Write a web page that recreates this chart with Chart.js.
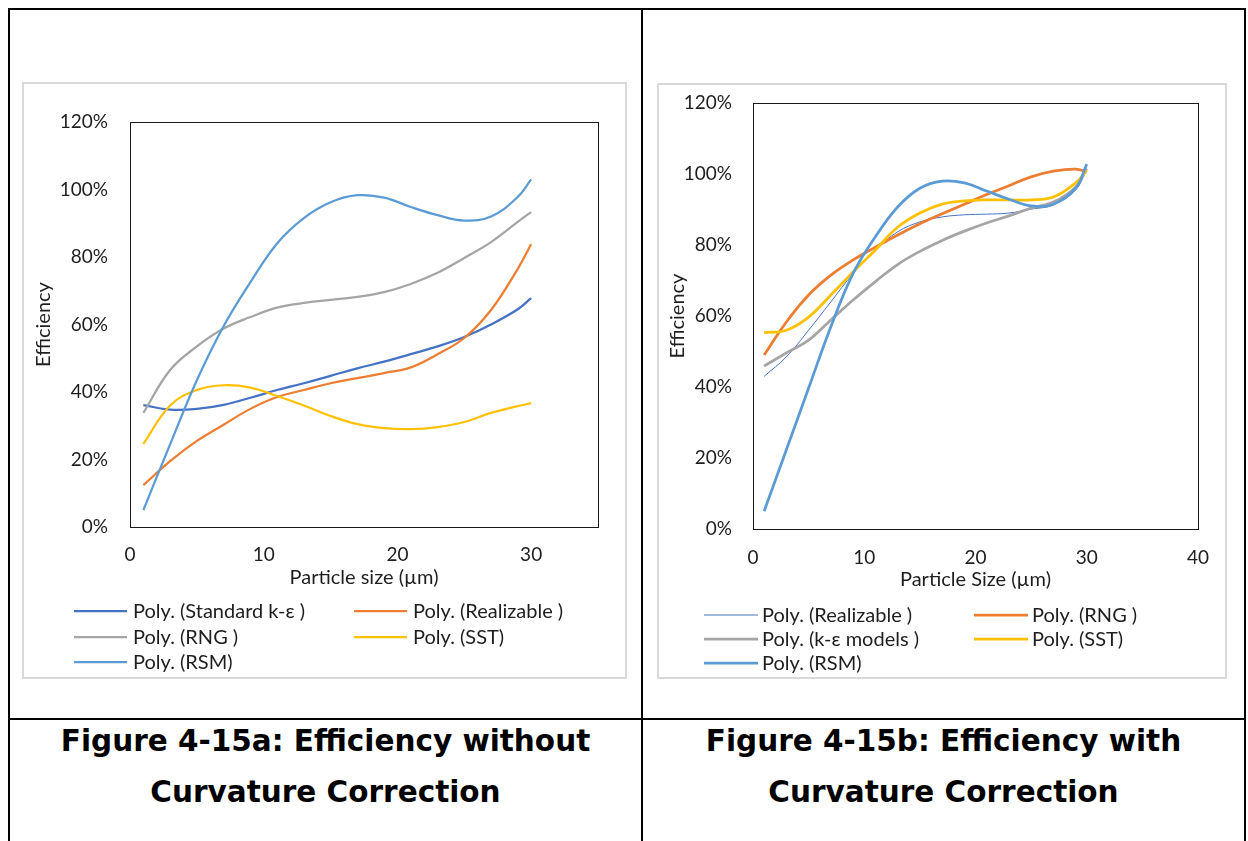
<!DOCTYPE html>
<html>
<head>
<meta charset="utf-8">
<title>Efficiency vs particle size</title>
<script src="https://cdn.jsdelivr.net/npm/chart.js@4.4.1/dist/chart.umd.min.js"></script>
<style>
  html, body { margin: 0; padding: 0; background: #fff; }
  body { position: relative; width: 1248px; height: 841px; overflow: hidden; }
  .rule { position: absolute; background: #000; }
  .frame { position: absolute; box-sizing: border-box; border: 2px solid #d9d9d9; background: #fff; }
  .frame canvas { display: block; }
  .caption {
    position: absolute; text-align: center;
    font-family: "DejaVu Sans", Verdana, sans-serif; font-weight: bold;
    font-size: 29.5px; line-height: 51px; color: #000;
  }
</style>
</head>
<body>
  <!-- table rules -->
  <div class="rule" style="left:8px;top:8px;width:1238px;height:2px"></div>
  <div class="rule" style="left:8px;top:718px;width:1238px;height:2px"></div>
  <div class="rule" style="left:8px;top:8px;width:2px;height:833px"></div>
  <div class="rule" style="left:641px;top:8px;width:2px;height:833px"></div>
  <div class="rule" style="left:1244px;top:8px;width:2px;height:833px"></div>

  <div class="frame" style="left:22px;top:82px;width:605px;height:597px">
    <canvas id="chartA" width="601" height="593"></canvas>
  </div>
  <div class="frame" style="left:657px;top:83px;width:570px;height:596px">
    <canvas id="chartB" width="566" height="592"></canvas>
  </div>

  <div class="caption" style="left:10px;top:716px;width:631px">Figure 4-15a: Efficiency without<br>Curvature Correction</div>
  <div class="caption" style="left:643px;top:716px;width:601px">Figure 4-15b: Efficiency with<br>Curvature Correction</div>

<script>
// Particle sizes (µm) at which each polynomial trend curve is sampled
const particleSize = [1, 3, 5, 7, 9, 11, 13, 15, 17, 19, 21, 23, 25, 27, 29, 30];

// Efficiency (%) without curvature correction
const standardKE_noCC  = [36.1, 34.8, 35.0, 36.2, 38.3, 40.6, 42.6, 44.8, 47.0, 49.0, 51.2, 53.5, 56.3, 60.0, 64.5, 67.8];
const realizable_noCC  = [12.4, 19.5, 25.5, 30.3, 35.0, 38.5, 40.6, 42.6, 44.1, 45.6, 47.3, 51.2, 56.0, 64.3, 76.5, 83.8];
const rng_noCC         = [33.8, 46.5, 53.5, 58.8, 62.2, 65.0, 66.4, 67.3, 68.2, 69.6, 72.0, 75.3, 79.7, 84.4, 90.4, 93.3];
const sst_noCC         = [24.6, 36.0, 40.6, 42.0, 41.3, 38.8, 36.0, 32.9, 30.5, 29.3, 29.0, 29.6, 31.1, 33.8, 35.8, 36.7];
const rsm_noCC         = [5.0, 24.5, 43.5, 59.5, 72.5, 84.0, 91.5, 96.2, 98.3, 97.6, 94.8, 92.4, 90.8, 92.0, 97.8, 103.0];

// Efficiency (%) with curvature correction
const realizable_CC    = [43.0, 48.5, 56.0, 64.0, 72.0, 78.6, 83.7, 86.5, 87.9, 88.5, 88.7, 89.0, 90.1, 91.3, 95.5, 101.5];
const rng_CC           = [49.0, 58.3, 65.9, 71.5, 75.8, 79.4, 82.8, 86.0, 88.8, 91.5, 94.2, 96.7, 99.2, 100.8, 101.4, 100.6];
const keModels_CC      = [45.9, 49.6, 53.2, 58.9, 64.5, 69.7, 74.5, 78.2, 81.3, 83.9, 86.2, 88.2, 90.4, 92.1, 96.3, 101.5];
const sst_CC           = [55.3, 56.0, 59.7, 65.9, 72.4, 78.6, 85.0, 89.0, 91.5, 92.4, 92.7, 92.7, 92.7, 93.5, 97.5, 101.0];
const rsm_CC           = [5.0, 22.3, 39.7, 57.0, 72.0, 82.3, 90.7, 96.0, 98.0, 97.5, 95.2, 92.9, 91.0, 91.5, 96.0, 102.8];

// Legend labels
const labelsA = ['Poly. (Standard k-ε )', 'Poly. (Realizable )', 'Poly. (RNG )', 'Poly. (SST)', 'Poly. (RSM)'];
const labelsB = ['Poly. (Realizable )', 'Poly. (RNG )', 'Poly. (k-ε models )', 'Poly. (SST)', 'Poly. (RSM)'];

// Axis ticks
const yTicks = [0, 20, 40, 60, 80, 100, 120];
const xTicksA = [0, 10, 20, 30];
const xTicksB = [0, 10, 20, 30, 40];

const FONT = 'Lato, "Noto Sans", sans-serif';
const TEXT = '#1e1e1e';
const TICK_SIZE = 19;
const TITLE_SIZE = 20;
const LEGEND_SIZE = 20;

const toPoints = (ys) => ys.map((y, i) => ({ x: particleSize[i], y }));

function series(label, values, color, width, count, idx) {
  return {
    label, data: toPoints(values),
    borderColor: color, backgroundColor: color,
    borderWidth: width, pointRadius: 0, pointHoverRadius: 0,
    tension: 0.4, fill: false,
    order: count - idx   // later series painted over earlier ones
  };
}

// Box around the plotting area
const plotFrame = {
  id: 'plotFrame',
  afterDraw(chart) {
    const { ctx, chartArea: a } = chart;
    ctx.save();
    ctx.strokeStyle = '#1a1a1a';
    ctx.lineWidth = 1;
    ctx.strokeRect(Math.round(a.left) + 0.5, Math.round(a.top) + 0.5,
                   Math.round(a.right - a.left), Math.round(a.bottom - a.top));
    ctx.restore();
  }
};

// Two-column legend underneath the axis title
const gridLegend = {
  id: 'gridLegend',
  afterDraw(chart, args, opts) {
    const ctx = chart.ctx;
    ctx.save();
    ctx.font = LEGEND_SIZE + 'px ' + FONT;
    ctx.textBaseline = 'middle';
    ctx.textAlign = 'left';
    chart.data.datasets.forEach((ds, i) => {
      const x = opts.cols[i % 2];
      const y = opts.rows[Math.floor(i / 2)];
      ctx.strokeStyle = ds.borderColor;
      ctx.lineWidth = Math.max(ds.borderWidth, opts.minLine || 1);
      ctx.beginPath();
      ctx.moveTo(x, y);
      ctx.lineTo(x + opts.sample, y);
      ctx.stroke();
      ctx.fillStyle = TEXT;
      ctx.fillText(ds.label, x + opts.sample + opts.gap, y + 1);
    });
    ctx.restore();
  }
};

function buildOptions(cfg) {
  return {
    responsive: false,
    animation: false,
    events: [],
    layout: { padding: cfg.padding },
    plugins: {
      legend: { display: false },
      tooltip: { enabled: false },
      gridLegend: cfg.legend
    },
    scales: {
      x: {
        type: 'linear', min: 0, max: cfg.xMax,
        grid: { display: false, drawTicks: false },
        border: { display: false },
        afterFit: (s) => { s.height = cfg.xHeight; s.paddingLeft = 0; s.paddingRight = 0; },
        afterBuildTicks: (s) => { s.ticks = cfg.xTicks.map(v => ({ value: v })); },
        ticks: { padding: cfg.xTickPad, color: TEXT, font: { family: FONT, size: TICK_SIZE }, maxRotation: 0 },
        title: { display: true, text: cfg.xTitle, color: TEXT, padding: 0, font: { family: FONT, size: TITLE_SIZE } }
      },
      y: {
        type: 'linear', min: 0, max: 120,
        grid: { display: false, drawTicks: false },
        border: { display: false },
        afterFit: (s) => { s.width = cfg.yWidth; s.paddingTop = 0; s.paddingBottom = 0; },
        afterBuildTicks: (s) => { s.ticks = yTicks.map(v => ({ value: v })); },
        ticks: { padding: cfg.yTickPad, color: TEXT, font: { family: FONT, size: TICK_SIZE }, callback: (v) => v + '%' },
        title: { display: true, text: 'Efficiency', color: TEXT, padding: 0, font: { family: FONT, size: TITLE_SIZE } }
      }
    }
  };
}

function draw() {
  const setA = [standardKE_noCC, realizable_noCC, rng_noCC, sst_noCC, rsm_noCC];
  const coloursA = ['#4472C4', '#ED7D31', '#A5A5A5', '#FFC000', '#5B9BD5'];
  new Chart(document.getElementById('chartA'), {
    type: 'line',
    data: { datasets: setA.map((v, i) => series(labelsA[i], v, coloursA[i], 2.25, setA.length, i)) },
    options: buildOptions({
      padding: { left: 8, top: 38, right: 27, bottom: 87 },
      xMax: 35, xTicks: xTicksA, xHeight: 63, xTickPad: 16, xTitle: 'Particle size (µm)',
      yWidth: 98, yTickPad: 22,
      legend: { cols: [50, 330], rows: [527, 553, 578], sample: 53, gap: 6, minLine: 2 }
    }),
    plugins: [plotFrame, gridLegend]
  });

  const setB = [realizable_CC, rng_CC, keModels_CC, sst_CC, rsm_CC];
  const coloursB = ['#4472C4', '#ED7D31', '#A5A5A5', '#FFC000', '#5B9BD5'];
  const widthsB = [1, 2.75, 2.75, 2.75, 2.75];
  new Chart(document.getElementById('chartB'), {
    type: 'line',
    data: { datasets: setB.map((v, i) => series(labelsB[i], v, coloursB[i], widthsB[i], setB.length, i)) },
    options: buildOptions({
      padding: { left: 7, top: 18, right: 27, bottom: 85 },
      xMax: 40, xTicks: xTicksB, xHeight: 63, xTickPad: 17, xTitle: 'Particle Size (µm)',
      yWidth: 87, yTickPad: 21,
      legend: { cols: [45, 315], rows: [530, 554, 578], sample: 54, gap: 4, minLine: 1 }
    }),
    plugins: [plotFrame, gridLegend]
  });
}

if (document.fonts && document.fonts.load) {
  Promise.all([
    document.fonts.load('19px Lato'),
    document.fonts.load('bold 29px "DejaVu Sans"')
  ]).then(draw, draw);
} else {
  draw();
}
</script>
</body>
</html>
